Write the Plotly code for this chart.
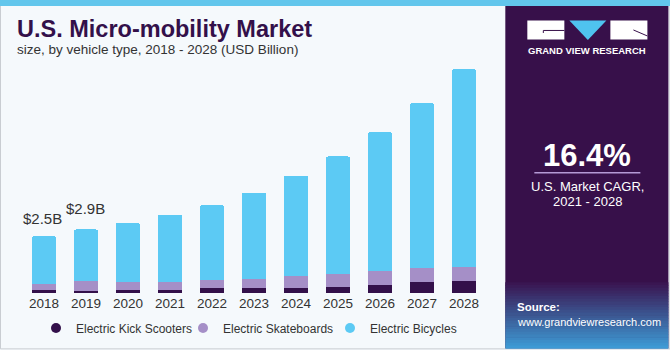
import plotly.graph_objects as go

years = ["2018", "2019", "2020", "2021", "2022", "2023", "2024", "2025", "2026", "2027", "2028"]
kick_scooters = [0.12, 0.11, 0.12, 0.12, 0.20, 0.20, 0.22, 0.27, 0.34, 0.49, 0.53]
skateboards = [0.30, 0.41, 0.37, 0.37, 0.38, 0.44, 0.52, 0.58, 0.64, 0.60, 0.62]
bicycles = [2.10, 2.30, 2.62, 2.98, 3.32, 3.82, 4.46, 5.21, 6.16, 7.33, 8.78]
total_labels = {"2018": "$2.5B", "2019": "$2.9B"}
series_names = ["Electric Kick Scooters", "Electric Skateboards", "Electric Bicycles"]
colors = ["#33104a", "#a58fc7", "#5ccaf4"]

W, H = 670, 350
L, T = 23, 60
PW, PH = 461.7, 232.7
B = H - T - PH
R = W - L - PW

def px(x):
    return (x - L) / PW

def py(y):
    return (T + PH - y) / PH

fig = go.Figure()
for name, vals, col in zip(series_names, [kick_scooters, skateboards, bicycles], colors):
    fig.add_trace(go.Bar(x=years, y=vals, name=name, marker=dict(color=col, line=dict(width=0)),
                         showlegend=False, hoverinfo="x+y+name"))
for name, col in zip(series_names, colors):
    fig.add_trace(go.Scatter(x=[years[0]], y=[None], mode="markers", name=name,
                             marker=dict(color=col, size=10, symbol="circle")))

totals = [a + b + c for a, b, c in zip(kick_scooters, skateboards, bicycles)]
annotations = []
for i, yr in enumerate(years):
    if yr in total_labels:
        annotations.append(dict(x=i, y=totals[i], xref="x", yref="y", text=total_labels[yr], showarrow=False,
                                yanchor="bottom", yshift=7 if i == 0 else 10, xshift=-2 if i == 0 else -1,
                                font=dict(family="Liberation Sans", size=15, color="#333333")))

shapes = []
# outer border
shapes.append(dict(type="rect", xref="paper", yref="paper", x0=px(0.5), x1=px(669.5), y0=py(348.5), y1=py(0.5),
                   line=dict(color="#c9cdd2", width=1), fillcolor="rgba(0,0,0,0)", layer="below"))
# top band
shapes.append(dict(type="rect", xref="paper", yref="paper", x0=px(0), x1=px(670), y0=py(6), y1=py(0),
                   line=dict(width=0), fillcolor="#62c6ec", layer="above"))
# right panel
shapes.append(dict(type="rect", xref="paper", yref="paper", x0=px(505), x1=px(668), y0=py(348), y1=py(6),
                   line=dict(width=0), fillcolor="#37104a", layer="above"))
# gradient at bottom of panel
n = 24
c0 = (0x3a, 0x16, 0x52)
c1 = (0x3e, 0x9a, 0xd4)
gy0, gy1 = 282, 348
for k in range(n):
    t = k / (n - 1)
    c = tuple(int(c0[j] + (c1[j] - c0[j]) * t) for j in range(3))
    ya = gy0 + (gy1 - gy0) * k / n
    yb = gy0 + (gy1 - gy0) * (k + 1) / n
    shapes.append(dict(type="rect", xref="paper", yref="paper", x0=px(505), x1=px(668), y0=py(yb + 0.5), y1=py(ya),
                       line=dict(width=0), fillcolor="rgb(%d,%d,%d)" % c, layer="above"))
# logo
shapes.append(dict(type="rect", xref="paper", yref="paper", x0=px(527), x1=px(564), y0=py(39.5), y1=py(20.5),
                   line=dict(width=0), fillcolor="white", layer="above"))
shapes.append(dict(type="rect", xref="paper", yref="paper", x0=px(610), x1=px(647), y0=py(39.5), y1=py(20.5),
                   line=dict(width=0), fillcolor="white", layer="above"))
shapes.append(dict(type="path", xref="paper", yref="paper",
                   path="M %f %f L %f %f L %f %f Z" % (px(569), py(20.5), px(606), py(20.5), px(587.5), py(40)),
                   line=dict(width=0), fillcolor="#4fc3ef", layer="above"))
shapes.append(dict(type="path", xref="paper", yref="paper",
                   path="M %f %f L %f %f L %f %f" % (px(543), py(33), px(543), py(30.5), px(564), py(30.5)),
                   line=dict(width=1, color="#37104a"), layer="above"))
shapes.append(dict(type="line", xref="paper", yref="paper", x0=px(633), y0=py(30), x1=px(647), y1=py(36),
                   line=dict(width=1, color="#37104a"), layer="above"))
# divider under CAGR
shapes.append(dict(type="line", xref="paper", yref="paper", x0=px(534), y0=py(172.5), x1=px(640), y1=py(172.5),
                   line=dict(width=1.5, color="#b59ad6"), layer="above"))

def txt(x, y, text, size, color, bold=False, xanchor="left", family="Liberation Sans"):
    t = "<b>%s</b>" % text if bold else text
    annotations.append(dict(xref="paper", yref="paper", x=px(x), y=py(y), text=t, showarrow=False,
                            xanchor=xanchor, yanchor="middle", font=dict(family=family, size=size, color=color)))

txt(15, 29, "U.S. Micro-mobility Market", 23.5, "#33104a", bold=True)
txt(15, 49.5, "size, by vehicle type, 2018 - 2028 (USD Billion)", 13.5, "#333333")
txt(587, 51, "GRAND VIEW RESEARCH", 9.5, "white", bold=True, xanchor="center")
txt(587, 155, "16.4%", 31, "white", bold=True, xanchor="center")
txt(587, 186, "U.S. Market CAGR,", 13, "white", xanchor="center")
txt(587, 201, "2021 - 2028", 13, "white", xanchor="center")
txt(515, 307, "Source:", 11.5, "white", bold=True)
txt(515, 322, "www.grandviewresearch.com", 11, "white")

fig.update_layout(
    width=W, height=H,
    margin=dict(l=L, r=R, t=T, b=B, pad=0, autoexpand=False),
    barmode="stack", bargap=0.43, barcornerradius=2,
    paper_bgcolor="#f5f9fc", plot_bgcolor="#f5f9fc",
    xaxis=dict(type="category", range=[-0.5, 10.5], showgrid=False, zeroline=False, showline=False, ticks="",
               tickfont=dict(family="Liberation Sans", size=13.5, color="#333333"), fixedrange=True,
               automargin=False),
    yaxis=dict(range=[0, PH / 22.5], visible=False, fixedrange=True, automargin=False),
    legend=dict(orientation="h", xref="container", yref="container", x=36 / W, xanchor="left",
                y=1 - 328 / H, yanchor="middle", traceorder="normal",
                font=dict(family="Liberation Sans", size=12, color="#333333"),
                bgcolor="rgba(0,0,0,0)", itemclick=False, itemdoubleclick=False,
                tracegroupgap=0, itemwidth=30, entrywidth=102),
    annotations=annotations, shapes=shapes,
    showlegend=True,
)

fig.write_html("out.html", config={"displayModeBar": False})
